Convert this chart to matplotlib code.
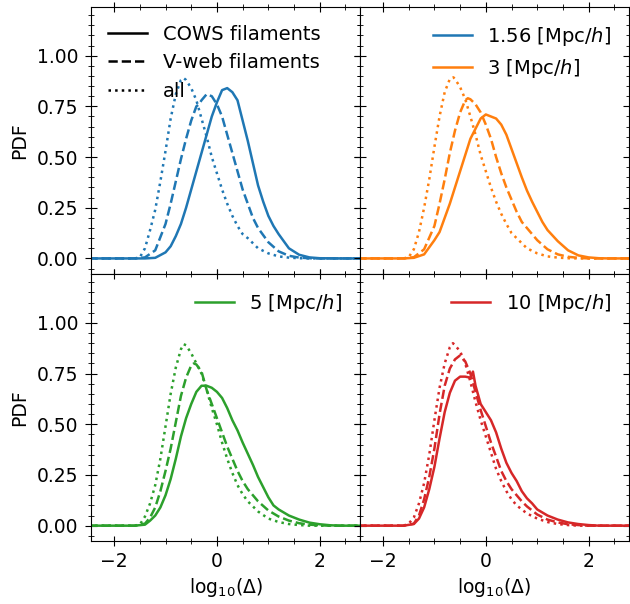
import sys
import matplotlib
matplotlib.use("Agg")
import matplotlib.pyplot as plt
from matplotlib.lines import Line2D
from matplotlib.ticker import MultipleLocator, AutoMinorLocator, FormatStrFormatter
import numpy as np


# Smoothing scales and their colours
scales = ["1.56", "3", "5", "10"]
colors = ["tab:blue", "tab:orange", "tab:green", "tab:red"]

# --- 1.56 Mpc/h ---
x_cows_156 = [-2.5, -1.4, -1.2, -1.0, -0.9, -0.8, -0.7, -0.6, -0.5, -0.4, -0.3, -0.2, -0.1, 0.0, 0.1, 0.2, 0.3,
              0.4, 0.5, 0.6, 0.7, 0.8, 0.9, 1.0, 1.1, 1.2, 1.4, 1.6, 1.8, 2.0, 2.4, 2.8]
pdf_cows_156 = [0.0, 0.0, 0.003, 0.03, 0.06, 0.11, 0.17, 0.25, 0.34, 0.43, 0.52, 0.61, 0.70, 0.77, 0.83, 0.84, 0.82,
                0.78, 0.68, 0.58, 0.47, 0.36, 0.28, 0.21, 0.16, 0.12, 0.05, 0.018, 0.005, 0.001, 0.0, 0.0]
x_vweb_156 = [-2.5, -1.6, -1.4, -1.2, -1.0, -0.9, -0.8, -0.7, -0.6, -0.5, -0.4, -0.35, -0.3, -0.2, -0.1, 0.0, 0.1,
              0.2, 0.3, 0.4, 0.5, 0.6, 0.7, 0.8, 1.0, 1.2, 1.4, 1.6, 1.8, 2.0, 2.8]
pdf_vweb_156 = [0.0, 0.0, 0.005, 0.04, 0.17, 0.27, 0.38, 0.49, 0.59, 0.68, 0.75, 0.76, 0.78, 0.81, 0.80, 0.76, 0.70,
                0.61, 0.52, 0.43, 0.34, 0.27, 0.20, 0.15, 0.08, 0.035, 0.013, 0.004, 0.001, 0.0, 0.0]
x_all_156 = [-2.5, -1.6, -1.5, -1.4, -1.3, -1.2, -1.1, -1.0, -0.9, -0.8, -0.7, -0.65, -0.6, -0.5, -0.4, -0.3, -0.2,
             -0.1, 0.0, 0.1, 0.2, 0.3, 0.4, 0.5, 0.6, 0.8, 1.0, 1.2, 1.4, 1.6, 1.8, 2.8]
pdf_all_156 = [0.0, 0.0, 0.005, 0.05, 0.14, 0.24, 0.38, 0.53, 0.69, 0.81, 0.88, 0.89, 0.88, 0.84, 0.78, 0.69, 0.60,
               0.50, 0.42, 0.34, 0.27, 0.21, 0.16, 0.12, 0.10, 0.05, 0.025, 0.01, 0.004, 0.001, 0.0, 0.0]

# --- 3 Mpc/h ---
x_cows_3 = [-2.5, -1.6, -1.4, -1.2, -1.0, -0.9, -0.8, -0.7, -0.6, -0.5, -0.4, -0.3, -0.2, -0.1, 0.0, 0.1, 0.2, 0.3,
            0.4, 0.5, 0.6, 0.7, 0.8, 0.9, 1.0, 1.1, 1.2, 1.4, 1.6, 1.8, 2.0, 2.2, 2.4, 2.8]
pdf_cows_3 = [0.0, 0.0, 0.003, 0.02, 0.09, 0.13, 0.20, 0.27, 0.35, 0.43, 0.51, 0.59, 0.64, 0.69, 0.71, 0.70, 0.69,
              0.66, 0.61, 0.54, 0.47, 0.40, 0.335, 0.28, 0.23, 0.18, 0.14, 0.085, 0.04, 0.015, 0.005, 0.001, 0.0, 0.0]
x_vweb_3 = [-2.5, -1.6, -1.4, -1.2, -1.0, -0.9, -0.8, -0.7, -0.6, -0.5, -0.4, -0.35, -0.3, -0.2, -0.1, 0.0, 0.1, 0.2,
            0.3, 0.4, 0.5, 0.6, 0.7, 0.8, 1.0, 1.2, 1.4, 1.6, 1.8, 2.0, 2.8]
pdf_vweb_3 = [0.0, 0.0, 0.006, 0.045, 0.16, 0.27, 0.39, 0.52, 0.63, 0.72, 0.78, 0.79, 0.785, 0.76, 0.72, 0.66, 0.59,
              0.50, 0.42, 0.35, 0.29, 0.23, 0.18, 0.15, 0.09, 0.045, 0.02, 0.008, 0.003, 0.0, 0.0]
x_all_3 = [-2.5, -1.6, -1.5, -1.4, -1.3, -1.2, -1.1, -1.0, -0.9, -0.8, -0.7, -0.63, -0.6, -0.5, -0.4, -0.3, -0.2,
           -0.1, 0.0, 0.1, 0.2, 0.3, 0.4, 0.5, 0.6, 0.8, 1.0, 1.2, 1.4, 1.6, 1.8, 2.8]
pdf_all_3 = [0.0, 0.0, 0.006, 0.045, 0.13, 0.25, 0.39, 0.55, 0.70, 0.82, 0.885, 0.893, 0.885, 0.845, 0.785, 0.70,
             0.61, 0.51, 0.43, 0.35, 0.28, 0.22, 0.17, 0.125, 0.10, 0.05, 0.025, 0.01, 0.004, 0.001, 0.0, 0.0]

# --- 5 Mpc/h ---
x_cows_5 = [-2.5, -1.6, -1.4, -1.3, -1.2, -1.1, -1.0, -0.9, -0.8, -0.7, -0.6, -0.5, -0.4, -0.3, -0.2, -0.1, 0.0, 0.1,
            0.2, 0.3, 0.4, 0.5, 0.6, 0.7, 0.8, 0.9, 1.0, 1.1, 1.2, 1.4, 1.6, 1.8, 2.0, 2.2, 2.4, 2.8]
pdf_cows_5 = [0.0, 0.0, 0.005, 0.025, 0.05, 0.09, 0.15, 0.23, 0.33, 0.44, 0.53, 0.60, 0.66, 0.69, 0.69, 0.68, 0.66,
              0.63, 0.58, 0.52, 0.47, 0.41, 0.355, 0.30, 0.24, 0.19, 0.14, 0.10, 0.08, 0.05, 0.03, 0.015, 0.007,
              0.002, 0.0, 0.0]
x_vweb_5 = [-2.5, -1.6, -1.4, -1.3, -1.2, -1.1, -1.0, -0.9, -0.8, -0.7, -0.6, -0.5, -0.45, -0.4, -0.3, -0.2, -0.1,
            0.0, 0.1, 0.2, 0.3, 0.4, 0.5, 0.6, 0.7, 0.8, 1.0, 1.2, 1.4, 1.6, 1.8, 2.0, 2.2, 2.8]
pdf_vweb_5 = [0.0, 0.0, 0.01, 0.04, 0.09, 0.17, 0.27, 0.38, 0.51, 0.64, 0.73, 0.79, 0.80, 0.795, 0.76, 0.67, 0.60,
              0.53, 0.46, 0.39, 0.33, 0.27, 0.22, 0.18, 0.15, 0.12, 0.075, 0.045, 0.025, 0.012, 0.005, 0.002, 0.0, 0.0]
x_all_5 = [-2.5, -1.6, -1.5, -1.4, -1.3, -1.2, -1.1, -1.0, -0.9, -0.8, -0.7, -0.65, -0.6, -0.5, -0.4, -0.3, -0.2,
           -0.1, 0.0, 0.1, 0.2, 0.3, 0.4, 0.5, 0.6, 0.8, 1.0, 1.2, 1.4, 1.6, 1.8, 2.8]
pdf_all_5 = [0.0, 0.0, 0.005, 0.045, 0.11, 0.20, 0.33, 0.49, 0.65, 0.78, 0.87, 0.895, 0.89, 0.85, 0.80, 0.75, 0.67,
             0.58, 0.50, 0.41, 0.33, 0.26, 0.20, 0.155, 0.12, 0.07, 0.035, 0.018, 0.008, 0.003, 0.0, 0.0]

# --- 10 Mpc/h ---
x_cows_10 = [-2.5, -1.6, -1.4, -1.3, -1.2, -1.1, -1.0, -0.9, -0.8, -0.7, -0.6, -0.5, -0.4, -0.3, -0.25, -0.2, -0.1,
             0.0, 0.1, 0.2, 0.3, 0.4, 0.5, 0.6, 0.7, 0.8, 0.9, 1.0, 1.2, 1.4, 1.6, 1.8, 2.0, 2.2, 2.8]
pdf_cows_10 = [0.0, 0.0, 0.008, 0.035, 0.09, 0.18, 0.29, 0.43, 0.56, 0.655, 0.715, 0.735, 0.735, 0.73, 0.76, 0.69,
               0.60, 0.56, 0.52, 0.46, 0.38, 0.31, 0.26, 0.22, 0.17, 0.135, 0.11, 0.08, 0.05, 0.03, 0.016, 0.008,
               0.003, 0.0, 0.0]
x_vweb_10 = [-2.5, -1.6, -1.4, -1.3, -1.2, -1.1, -1.0, -0.9, -0.8, -0.7, -0.6, -0.5, -0.4, -0.3, -0.2, -0.1, 0.0,
             0.1, 0.2, 0.3, 0.4, 0.5, 0.6, 0.7, 0.8, 1.0, 1.2, 1.4, 1.6, 1.8, 2.0, 2.8]
pdf_vweb_10 = [0.0, 0.0, 0.01, 0.05, 0.13, 0.24, 0.38, 0.55, 0.69, 0.775, 0.82, 0.84, 0.81, 0.75, 0.66, 0.57, 0.49,
               0.41, 0.34, 0.27, 0.22, 0.18, 0.15, 0.12, 0.095, 0.055, 0.03, 0.016, 0.007, 0.003, 0.0, 0.0]
x_all_10 = [-2.5, -1.6, -1.5, -1.4, -1.3, -1.2, -1.1, -1.0, -0.9, -0.8, -0.7, -0.64, -0.6, -0.5, -0.4, -0.3, -0.2,
            -0.1, 0.0, 0.1, 0.2, 0.3, 0.4, 0.5, 0.6, 0.8, 1.0, 1.2, 1.4, 1.6, 1.8, 2.8]
pdf_all_10 = [0.0, 0.0, 0.01, 0.04, 0.11, 0.21, 0.35, 0.52, 0.68, 0.80, 0.88, 0.90, 0.89, 0.86, 0.80, 0.71, 0.61,
              0.52, 0.44, 0.36, 0.28, 0.22, 0.17, 0.13, 0.10, 0.06, 0.035, 0.018, 0.008, 0.003, 0.0, 0.0]

curves = {
    "1.56": [(x_cows_156, pdf_cows_156), (x_vweb_156, pdf_vweb_156), (x_all_156, pdf_all_156)],
    "3": [(x_cows_3, pdf_cows_3), (x_vweb_3, pdf_vweb_3), (x_all_3, pdf_all_3)],
    "5": [(x_cows_5, pdf_cows_5), (x_vweb_5, pdf_vweb_5), (x_all_5, pdf_all_5)],
    "10": [(x_cows_10, pdf_cows_10), (x_vweb_10, pdf_vweb_10), (x_all_10, pdf_all_10)],
}
styles = ["-", "--", ":"]
style_names = ["COWS filaments", "V-web filaments", "all"]


def main():
    plt.rcParams["font.size"] = 13.5
    fig, axs = plt.subplots(2, 2, figsize=(6.3, 6.04), sharex=True, sharey=True)
    fig.subplots_adjust(left=0.1444, right=0.998, top=0.9884, bottom=0.1035, hspace=0, wspace=0)

    scale_handles = []
    for ax, scale, color in zip(axs.flat, scales, colors):
        for (xs, ys), ls in zip(curves[scale], styles):
            ax.plot(xs, ys, ls=ls, color=color, lw=1.8)
        scale_handles.append(Line2D([], [], color=color, lw=1.8, label=scale + r" [Mpc/$h$]"))

        ax.set_xlim(-2.45, 2.78)
        ax.set_ylim(-0.078, 1.24)
        ax.xaxis.set_major_locator(MultipleLocator(2))
        ax.xaxis.set_minor_locator(AutoMinorLocator(4))
        ax.yaxis.set_major_locator(MultipleLocator(0.25))
        ax.yaxis.set_minor_locator(AutoMinorLocator(5))
        ax.yaxis.set_major_formatter(FormatStrFormatter("%.2f"))
        ax.tick_params(which="both", direction="inout", top=True, right=True, labelsize=13.5)
        ax.tick_params(which="major", length=7.5)
        ax.tick_params(which="minor", length=4)
        ax.tick_params(axis="y", which="major", length=8, pad=5)

    for ax in axs[:, 0]:
        ax.set_ylabel("PDF", fontsize=13.5, labelpad=6)
    for ax in axs[1, :]:
        ax.set_xlabel(r"log$_{10}$($\Delta$)", fontsize=13.5)

    # Line style legend (black) in the first panel
    style_handles = [Line2D([], [], color="black", ls=ls, lw=1.8, label=name)
                     for ls, name in zip(styles, style_names)]
    axs[0, 0].legend(handles=style_handles, loc="upper left", frameon=False, fontsize=14)

    # Smoothing scale legends
    axs[0, 1].legend(handles=scale_handles[:2], loc="upper right", frameon=False, fontsize=14)
    axs[1, 0].legend(handles=[scale_handles[2]], loc="upper right", frameon=False, fontsize=14)
    axs[1, 1].legend(handles=[scale_handles[3]], loc="upper right", frameon=False, fontsize=14)

    fig.savefig("out.png", dpi=100)
    return 0


if __name__ == "__main__":
    sys.exit(main())
